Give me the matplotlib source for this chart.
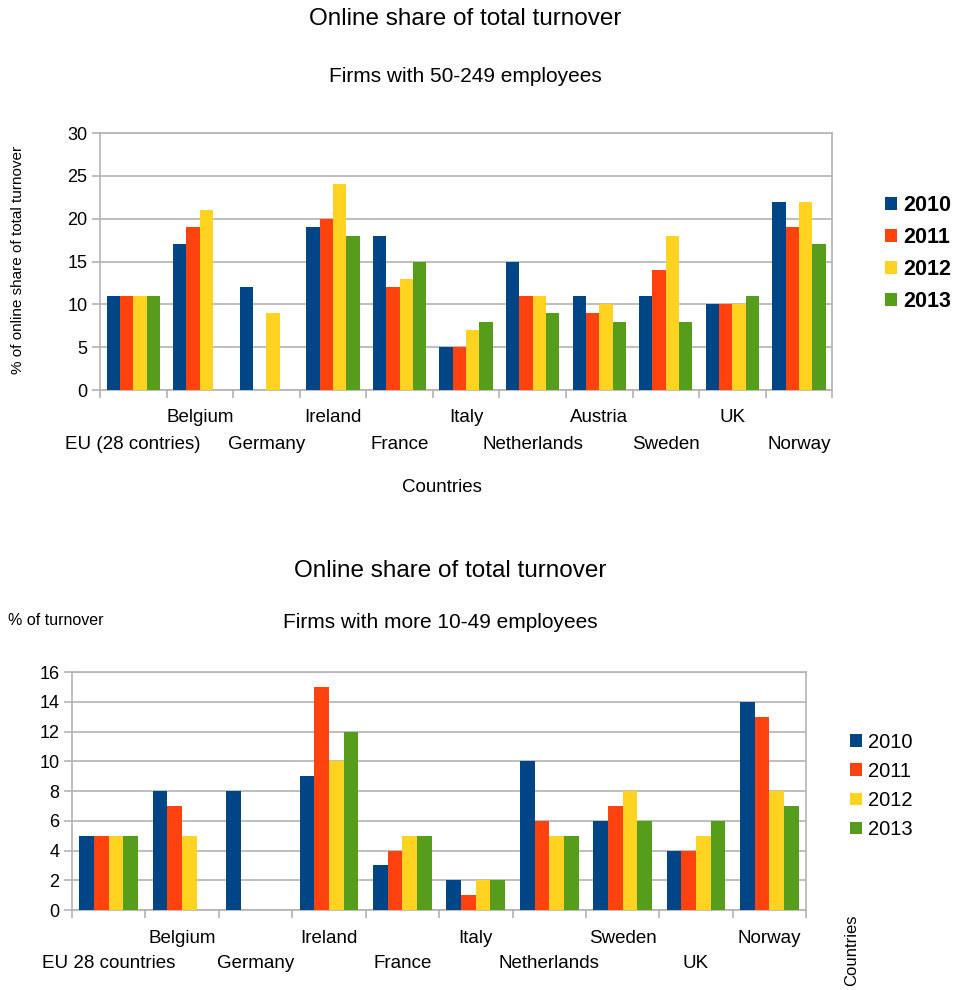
import matplotlib
matplotlib.use("Agg")
import matplotlib.pyplot as plt
import numpy as np

plt.rcParams['font.family'] = ['Liberation Sans', 'DejaVu Sans']

years = ["2010", "2011", "2012", "2013"]
colors = ["#004586", "#ff420e", "#ffd320", "#579d1c"]

# top chart: firms with 50-249 employees
top_countries = ["EU (28 contries)", "Belgium", "Germany", "Ireland", "France", "Italy",
                 "Netherlands", "Austria", "Sweden", "UK", "Norway"]
top_2010 = [11, 17, 12, 19, 18, 5, 15, 11, 11, 10, 22]
top_2011 = [11, 19, 0, 20, 12, 5, 11, 9, 14, 10, 19]
top_2012 = [11, 21, 9, 24, 13, 7, 11, 10, 18, 10, 22]
top_2013 = [11, 0, 0, 18, 15, 8, 9, 8, 8, 11, 17]

# bottom chart: firms with 10-49 employees
bot_countries = ["EU 28 countries", "Belgium", "Germany", "Ireland", "France", "Italy",
                 "Netherlands", "Sweden", "UK", "Norway"]
bot_2010 = [5, 8, 8, 9, 3, 2, 10, 6, 4, 14]
bot_2011 = [5, 7, 0, 15, 4, 1, 6, 7, 4, 13]
bot_2012 = [5, 5, 0, 10, 5, 2, 5, 8, 5, 8]
bot_2013 = [5, 0, 0, 12, 5, 2, 5, 6, 6, 7]


def draw(ax, countries, series, ymax, ystep, label_gap):
    n = len(countries)
    x = np.arange(n)
    w = 0.2
    for i, vals in enumerate(series):
        ax.bar(x - 0.3 + i * w, vals, w, color=colors[i], label=years[i], zorder=3)
    ax.set_xlim(-0.5, n - 0.5)
    ax.set_ylim(0, ymax)
    ax.set_yticks(np.arange(0, ymax + 1, ystep))
    ax.yaxis.grid(True, color="#b3b3b3", linewidth=1.2, zorder=0)
    for s in ax.spines.values():
        s.set_color("#b3b3b3")
        s.set_linewidth(1.2)
    ax.set_xticks(np.arange(n + 1) - 0.5)
    ax.set_xticklabels([])
    ax.tick_params(axis="x", length=6, color="#b3b3b3", width=1.2)
    ax.tick_params(axis="y", length=6, color="#b3b3b3", width=1.2, labelsize=13, pad=3)
    # staggered category labels
    for i, c in enumerate(countries):
        yoff = -label_gap[0] if i % 2 == 1 else -label_gap[1]
        ax.annotate(c, (i, 0), xycoords=("data", "axes fraction"),
                    xytext=(0, yoff), textcoords="offset points",
                    ha="center", va="center", fontsize=13.5)


fig = plt.figure(figsize=(9.61, 9.9), dpi=100)

ax1 = fig.add_axes([0.104, 0.606, 0.762, 0.2596])
draw(ax1, top_countries, [top_2010, top_2011, top_2012, top_2013], 30, 5, (20, 39.5))
fig.text(0.484, 0.981, "Online share of total turnover", ha="center", va="center", fontsize=17.5)
fig.text(0.484, 0.923, "Firms with 50-249 employees", ha="center", va="center", fontsize=15)
fig.text(0.46, 0.508, "Countries", ha="center", va="center", fontsize=13.5)
fig.text(0.019, 0.737, "% of online share of total turnover", rotation=90,
         ha="center", va="center", fontsize=11)
ax1.legend(loc="center left", bbox_to_anchor=(1.046, 0.531), frameon=False,
           handlelength=0.55, handleheight=0.55, handletextpad=0.3,
           labelspacing=0.5, prop={"weight": "bold", "size": 15.5})

ax2 = fig.add_axes([0.0749, 0.0808, 0.764, 0.2404])
draw(ax2, bot_countries, [bot_2010, bot_2011, bot_2012, bot_2013], 16, 2, (20.5, 38.5))
fig.text(0.468, 0.423, "Online share of total turnover", ha="center", va="center", fontsize=17.5)
fig.text(0.458, 0.371, "Firms with more 10-49 employees", ha="center", va="center", fontsize=15)
fig.text(0.008, 0.373, "% of turnover", ha="left", va="center", fontsize=11.5)
fig.text(0.886, 0.04, "Countries", rotation=90, ha="center", va="center", fontsize=12)
ax2.legend(loc="center left", bbox_to_anchor=(1.035, 0.521), frameon=False,
           handlelength=0.6, handleheight=0.6, handletextpad=0.3,
           labelspacing=0.5, fontsize=14.5)

fig.savefig("out.png", dpi=100)
